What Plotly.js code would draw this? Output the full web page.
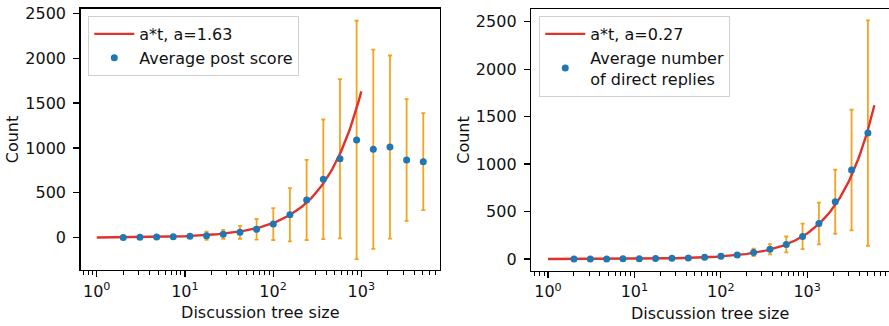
<!DOCTYPE html>
<html>
<head>
<meta charset="utf-8">
<script src="https://cdn.plot.ly/plotly-3.0.1.min.js"></script>
<style>html,body{margin:0;padding:0;background:#fff;}#chart{width:889px;height:326px;}</style>
</head>
<body>
<div id="chart"></div>
<script>
// Discussion tree size bins (shared by both panels)
const treeSize = [2.0, 3.09, 4.78, 7.38, 11.4, 17.6, 27.2, 42.1, 65.0, 100.5, 155, 240, 371, 573, 885, 1368, 2113, 3265, 5045];

// Left panel: average post score
const postScore    = [3, 5, 7, 10, 15, 22, 37, 60, 93, 152, 255, 420, 650, 880, 1089, 985, 1010, 866, 847];
const postScoreErr = [1, 2, 3, 5, 10, 45, 50, 72, 115, 178, 297, 446, 667, 887, 1328, 1110, 1020, 678, 540];
const aPost = 1.63;
const postLineRange = [1, 1000];

// Right panel: average number of direct replies
const replies    = [0.7, 1, 1.5, 2.3, 3.5, 5, 8, 12, 18, 28, 43, 70, 102, 154, 238, 375, 603, 937, 1327];
const repliesErr = [0.3, 0.5, 0.7, 1, 1.5, 2.5, 4, 6, 9, 14, 20, 38, 54, 83, 134, 220, 337, 635, 1187];
const aReplies = 0.27;
const repliesLineRange = [1, 6000];

// Tick labels
const majorTickVals = [1, 10, 100, 1000];
const majorTickText = ['10<sup>0</sup>', '10<sup>1</sup>', '10<sup>2</sup>', '10<sup>3</sup>'];
const yTickVals = [0, 500, 1000, 1500, 2000, 2500];
const yTickText = ['0', '500', '1000', '1500', '2000', '2500'];

const RED = '#e0322a', BLUE = '#1f77b4', ORANGE = '#f5a31f';
const FONT = 'DejaVu Sans, Verdana, sans-serif';
const FS = 16;

function fitLine(a, r) {
  const t = [], y = [];
  const n = 200, l0 = Math.log10(r[0]), l1 = Math.log10(r[1]);
  for (let i = 0; i <= n; i++) { const v = Math.pow(10, l0 + (l1 - l0) * i / n); t.push(v); y.push(a * v); }
  return {t, y};
}
const minorVals = [];
for (let e = -1; e <= 3; e++) for (let m = 2; m <= 9; m++) minorVals.push(m * Math.pow(10, e));

const lp = fitLine(aPost, postLineRange);
const lr = fitLine(aReplies, repliesLineRange);

function errTrace(x, y, err, xa, ya) {
  return {x, y, xaxis: xa, yaxis: ya, type: 'scatter', mode: 'markers', showlegend: false, hoverinfo: 'skip',
    marker: {size: 1, color: 'rgba(0,0,0,0)'},
    error_y: {type: 'data', array: err, visible: true, color: ORANGE, thickness: 1.8, width: 2}};
}

const data = [
  errTrace(treeSize, postScore, postScoreErr, 'x', 'y'),
  {x: lp.t, y: lp.y, xaxis: 'x', yaxis: 'y', type: 'scatter', mode: 'lines', name: 'a*t, a=' + aPost,
   line: {color: RED, width: 2.4}, legend: 'legend'},
  {x: treeSize, y: postScore, xaxis: 'x', yaxis: 'y', type: 'scatter', mode: 'markers', name: 'Average post score',
   marker: {color: BLUE, size: 7}, legend: 'legend'},
  errTrace(treeSize, replies, repliesErr, 'x2', 'y2'),
  {x: lr.t, y: lr.y, xaxis: 'x2', yaxis: 'y2', type: 'scatter', mode: 'lines', name: 'a*t, a=' + aReplies,
   line: {color: RED, width: 2.4}, legend: 'legend2'},
  {x: treeSize, y: replies, xaxis: 'x2', yaxis: 'y2', type: 'scatter', mode: 'markers', name: 'Average number<br>of direct replies',
   marker: {color: BLUE, size: 7}, legend: 'legend2'}
];

function xAxis(domain, range, anchor) {
  return {domain, range, type: 'log', anchor, tickmode: 'array', tickvals: majorTickVals, ticktext: majorTickText,
    ticks: 'outside', ticklen: 6, tickwidth: 1.2, tickcolor: '#000',
    minor: {tickmode: 'array', tickvals: minorVals, ticks: 'outside', ticklen: 3.5, tickwidth: 1, tickcolor: '#000'},
    showline: true, linecolor: '#000', linewidth: 1.5, mirror: true, showgrid: false, zeroline: false,
    tickfont: {family: FONT, size: FS, color: '#111'},
    title: {text: 'Discussion tree size', font: {family: FONT, size: FS, color: '#111'}, standoff: 7}};
}
function yAxis(domain, range, anchor, mirror) {
  return {domain, range, anchor, tickmode: 'array', tickvals: yTickVals, ticktext: yTickText,
    ticks: 'outside', ticklen: 6, tickwidth: 1.2, tickcolor: '#000', ticklabelstandoff: 4,
    showline: true, linecolor: '#000', linewidth: 1.5, mirror, showgrid: false, zeroline: false,
    tickfont: {family: FONT, size: FS, color: '#111'},
    title: {text: 'Count', font: {family: FONT, size: FS, color: '#111'}, standoff: 2}};
}
function legendCfg(x) {
  return {x, y: 0.951, xanchor: 'left', yanchor: 'top', bgcolor: 'rgba(255,255,255,0.85)', bordercolor: '#d0d0d0', borderwidth: 1,
    font: {family: FONT, size: FS, color: '#111'}, tracegroupgap: 0, itemwidth: 40};
}

const layout = {
  width: 889, height: 326, margin: {l: 0, r: 0, t: 0, b: 0},
  paper_bgcolor: '#fff', plot_bgcolor: '#fff',
  xaxis: xAxis([0.0908, 0.4949], [-0.1814, 3.892], 'y'),
  yaxis: yAxis([0.1718, 0.9724], [-360, 2548], 'x', true),
  xaxis2: xAxis([0.5976, 1.0], [-0.1933, 3.947], 'y2'),
  yaxis2: yAxis([0.1696, 0.9715], [-123, 2630], 'x2', false),
  legend: legendCfg(0.0993),
  legend2: legendCfg(0.6066),
  showlegend: true
};

Plotly.newPlot('chart', data, layout, {staticPlot: true, displayModeBar: false});
</script>
</body>
</html>
